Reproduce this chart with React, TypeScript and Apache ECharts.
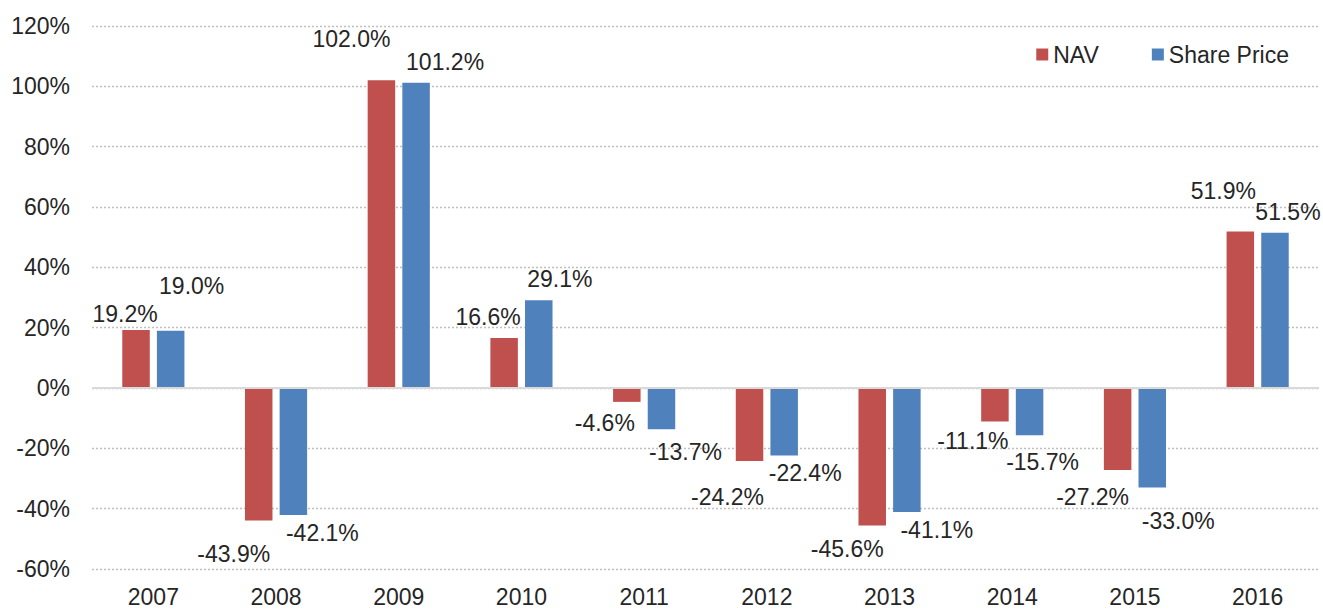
import React, { useEffect, useRef } from 'react';
import * as echarts from 'echarts';

const years = ['2007', '2008', '2009', '2010', '2011', '2012', '2013', '2014', '2015', '2016'];
const navReturns = [19.2, -43.9, 102.0, 16.6, -4.6, -24.2, -45.6, -11.1, -27.2, 51.9];
const sharePriceReturns = [19.0, -42.1, 101.2, 29.1, -13.7, -22.4, -41.1, -15.7, -33.0, 51.5];

// label nudges (px) from the default outside position, as placed in the original
const navLabelNudge: [number, number][] = [
  [-11, 0], [-25, 17], [-30, -25], [-16, -4], [-22, 5],
  [-22, 19], [-25, 7], [-22, 3], [-25, 10], [-17, -24],
];
const priceLabelNudge: [number, number][] = [
  [21, -28], [29, 1], [29, -4], [21, -5], [24, 6],
  [21, 1], [30, 2], [13, 10], [26, 17], [13, -4],
];

const FONT = "'Liberation Sans', Arial, sans-serif";
const TEXT = '#262626';
const RED = '#C0504D';
const BLUE = '#4F81BD';

const App: React.FC = () => {
  const chartRef = useRef<HTMLDivElement>(null);

  useEffect(() => {
    if (!chartRef.current) return;
    const chart = echarts.init(chartRef.current, undefined, { renderer: 'svg' });

    const label = {
      show: true,
      position: 'outside',
      fontSize: 23,
      fontFamily: FONT,
      color: TEXT,
      formatter: (p: any) => `${Number(p.value).toFixed(1)}%`,
    };

    chart.setOption({
      animation: false,
      backgroundColor: '#ffffff',
      textStyle: { fontFamily: FONT },
      grid: { left: 92, right: 4, top: 26, bottom: 40, containLabel: false, outerBoundsMode: 'none' },
      legend: {
        right: 29,
        top: 38,
        itemWidth: 12,
        itemHeight: 12,
        itemGap: 53,
        icon: 'rect',
        textStyle: { fontSize: 23, color: TEXT, fontFamily: FONT },
        data: ['NAV', 'Share Price'],
      },
      xAxis: {
        type: 'category',
        data: years,
        axisLine: { show: false },
        axisTick: { show: false },
        axisLabel: { fontSize: 23, color: TEXT, fontFamily: FONT, margin: 16 },
      },
      yAxis: {
        type: 'value',
        min: -60,
        max: 120,
        interval: 20,
        axisLine: { show: false },
        axisTick: { show: false },
        axisLabel: {
          fontSize: 23,
          color: TEXT,
          fontFamily: FONT,
          margin: 22,
          formatter: '{value}%',
        },
        splitLine: { lineStyle: { color: '#BFBFBF', width: 1.3, type: [2, 2] } },
      },
      series: [
        {
          name: 'NAV',
          type: 'bar',
          barWidth: 27.5,
          barGap: '26%',
          itemStyle: { color: RED },
          label,
          data: navReturns.map((v, i) => ({ value: v, label: { offset: navLabelNudge[i] } })),
          markLine: {
            silent: true,
            symbol: 'none',
            label: { show: false },
            lineStyle: { color: '#D9D9D9', width: 2, type: 'solid' },
            data: [{ yAxis: 0 }],
          },
        },
        {
          name: 'Share Price',
          type: 'bar',
          barWidth: 27.5,
          barGap: '26%',
          itemStyle: { color: BLUE },
          label,
          data: sharePriceReturns.map((v, i) => ({ value: v, label: { offset: priceLabelNudge[i] } })),
        },
      ],
    });

    return () => {
      chart.dispose();
    };
  }, []);

  return (
    <div
      ref={chartRef}
      style={{ position: 'absolute', left: 0, top: 0, width: 1323, height: 609, background: '#fff' }}
    />
  );
};

export default App;
